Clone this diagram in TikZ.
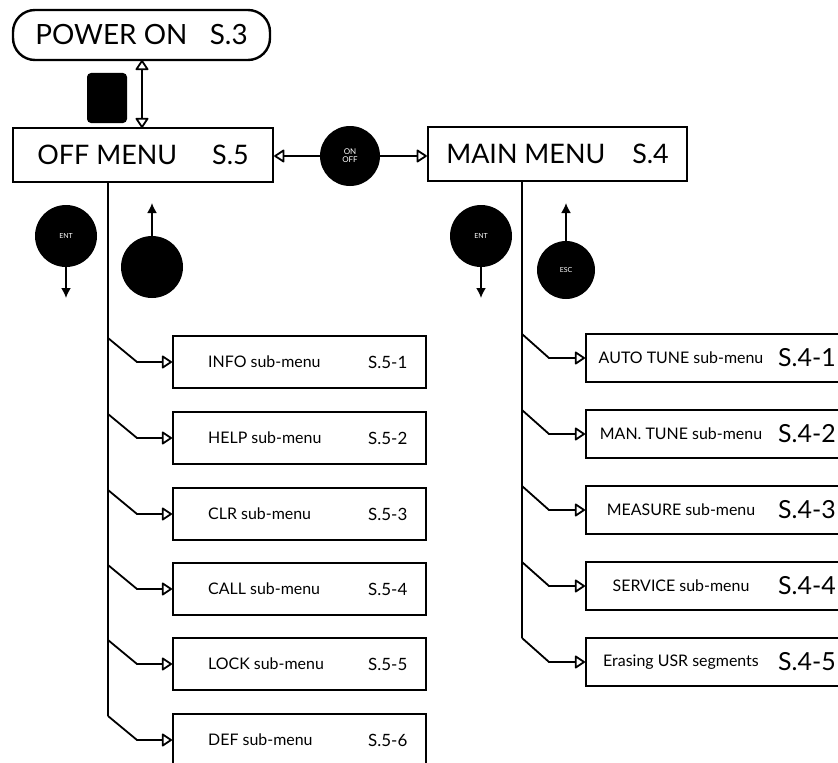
\documentclass[tikz,border=0pt]{standalone}
\usepackage{fontspec}
\setmainfont{Lato}
\usetikzlibrary{arrows.meta,calc}
\begin{document}
\begin{tikzpicture}[x=1bp,y=-1bp,
  box/.style={draw=black,line width=2.4bp,inner sep=0pt,minimum width=#1,anchor=west},
  subname/.style={font=\fontsize{16}{18}\selectfont,anchor=west,inner sep=0pt},
  subcode/.style={font=\fontsize{17}{19}\selectfont,anchor=west,inner sep=0pt},
  rname/.style={font=\fontsize{16}{18}\selectfont,inner sep=0pt},
  rcode/.style={font=\fontsize{25}{28}\selectfont,anchor=west,inner sep=0pt},
  key/.style={circle,fill=black,draw=none,minimum size=#1,inner sep=0pt,text=white,font=\fontsize{7}{8}\selectfont},
  conn/.style={line width=1.8bp},
  otip/.style={-{Triangle[open,round,length=11bp,width=14bp]}},
  stip/.style={-{Latex[length=10bp,width=10bp]}},
]
\useasboundingbox (0,0) rectangle (838,763);
\clip (0,0) rectangle (838,763);

% top boxes
\node[draw=black,line width=2.4bp,rounded corners=22bp,minimum width=257bp,minimum height=50bp,inner sep=0pt,font=\fontsize{28}{30}\selectfont] (power) at (141.5,35) {POWER ON\hspace{0.8em}S.3};
\node[draw=black,line width=2.4bp,minimum width=260bp,minimum height=54bp,inner sep=0pt,font=\fontsize{27}{30}\selectfont] (offmenu) at (143,155) {OFF MENU\hspace{1.3em}S.5};
\node[draw=black,line width=2.4bp,minimum width=259bp,minimum height=54bp,inner sep=0pt,font=\fontsize{27}{30}\selectfont] (mainmenu) at (557.5,154) {MAIN MENU\hspace{1.0em}S.4};

% black key between power and off menu
\node[fill=black,rounded corners=4bp,minimum width=40bp,minimum height=50bp,inner sep=0pt] (pwrkey) at (107,98) {};
\coordinate (pa) at (142,60);
\coordinate (pb) at (142,128);
\draw[conn,{Triangle[open,round,length=11bp,width=14bp]}-{Triangle[open,round,length=11bp,width=14bp]}] (pa) -- (pb);

% ON/OFF
\node[key=60bp,align=center,font=\fontsize{8}{8}\selectfont] (onoff) at (350,156) {ON\\OFF};
\draw[conn,otip] (onoff.west) -- (offmenu.east |- onoff.west);
\draw[conn,otip] (onoff.east) -- (mainmenu.west |- onoff.east);

% keys below menus
\node[key=62bp] (entL) at (66,236) {ENT};
\node[key=62bp] (escL) at (152,267) {};
\node[key=62bp] (entR) at (481,236) {ENT};
\node[key=58bp] (escR) at (566,270) {ESC};
\coordinate (entLe) at (66,298);
\coordinate (escLe) at (152,203);
\coordinate (entRe) at (481,298);
\coordinate (escRe) at (566,203);
\draw[conn,stip] (entL.south) -- (entLe);
\draw[conn,stip] (escL.north) -- (escLe);
\draw[conn,stip] (entR.south) -- (entRe);
\draw[conn,stip] (escR.north) -- (escRe);

% left spine
\coordinate (ls) at (108,182);
\coordinate (le) at (108,716);
\draw[conn] (ls) -- (le);
% right spine
\coordinate (rs) at (522,181);
\coordinate (re) at (522,638);
\draw[conn] (rs) -- (re);

% left sub-menus
\foreach \i/\c/\nm/\cd in {1/362/INFO sub-menu/S.5-1, 2/438/HELP sub-menu/S.5-2, 3/514/CLR sub-menu/S.5-3, 4/589/CALL sub-menu/S.5-4, 5/664/LOCK sub-menu/S.5-5, 6/740/DEF sub-menu/S.5-6}{
  \node[box=253bp,minimum height=52bp] (L\i) at (172,\c) {};
  \node[subname] (Ln\i) at (208,\c) {\nm};
  \node[subcode] (Lc\i) at (368,\c) {\cd};
  \coordinate (Lb\i) at (108,\c-24);
  \coordinate (Lk\i) at (137,\c);
  \draw[conn,otip] (Lb\i) -- (Lk\i) -- (L\i.west);
}

% right sub-menus
\foreach \i/\c/\nm/\cd in {1/358/AUTO TUNE sub-menu/S.4-1, 2/434/MAN. TUNE sub-menu/S.4-2, 3/510/MEASURE sub-menu/S.4-3, 4/586/SERVICE sub-menu/S.4-4, 5/662/Erasing USR segments/S.4-5}{
  \node[box=300bp,minimum height=48bp] (R\i) at (585,\c) {};
  \node[rname] (Rn\i) at (681,\c) {\nm};
  \node[rcode] (Rc\i) at (778,\c) {\cd};
  \coordinate (Rb\i) at (522,\c-24);
  \coordinate (Rk\i) at (549,\c);
  \draw[conn,otip] (Rb\i) -- (Rk\i) -- (R\i.west);
}
\end{tikzpicture}
\end{document}
